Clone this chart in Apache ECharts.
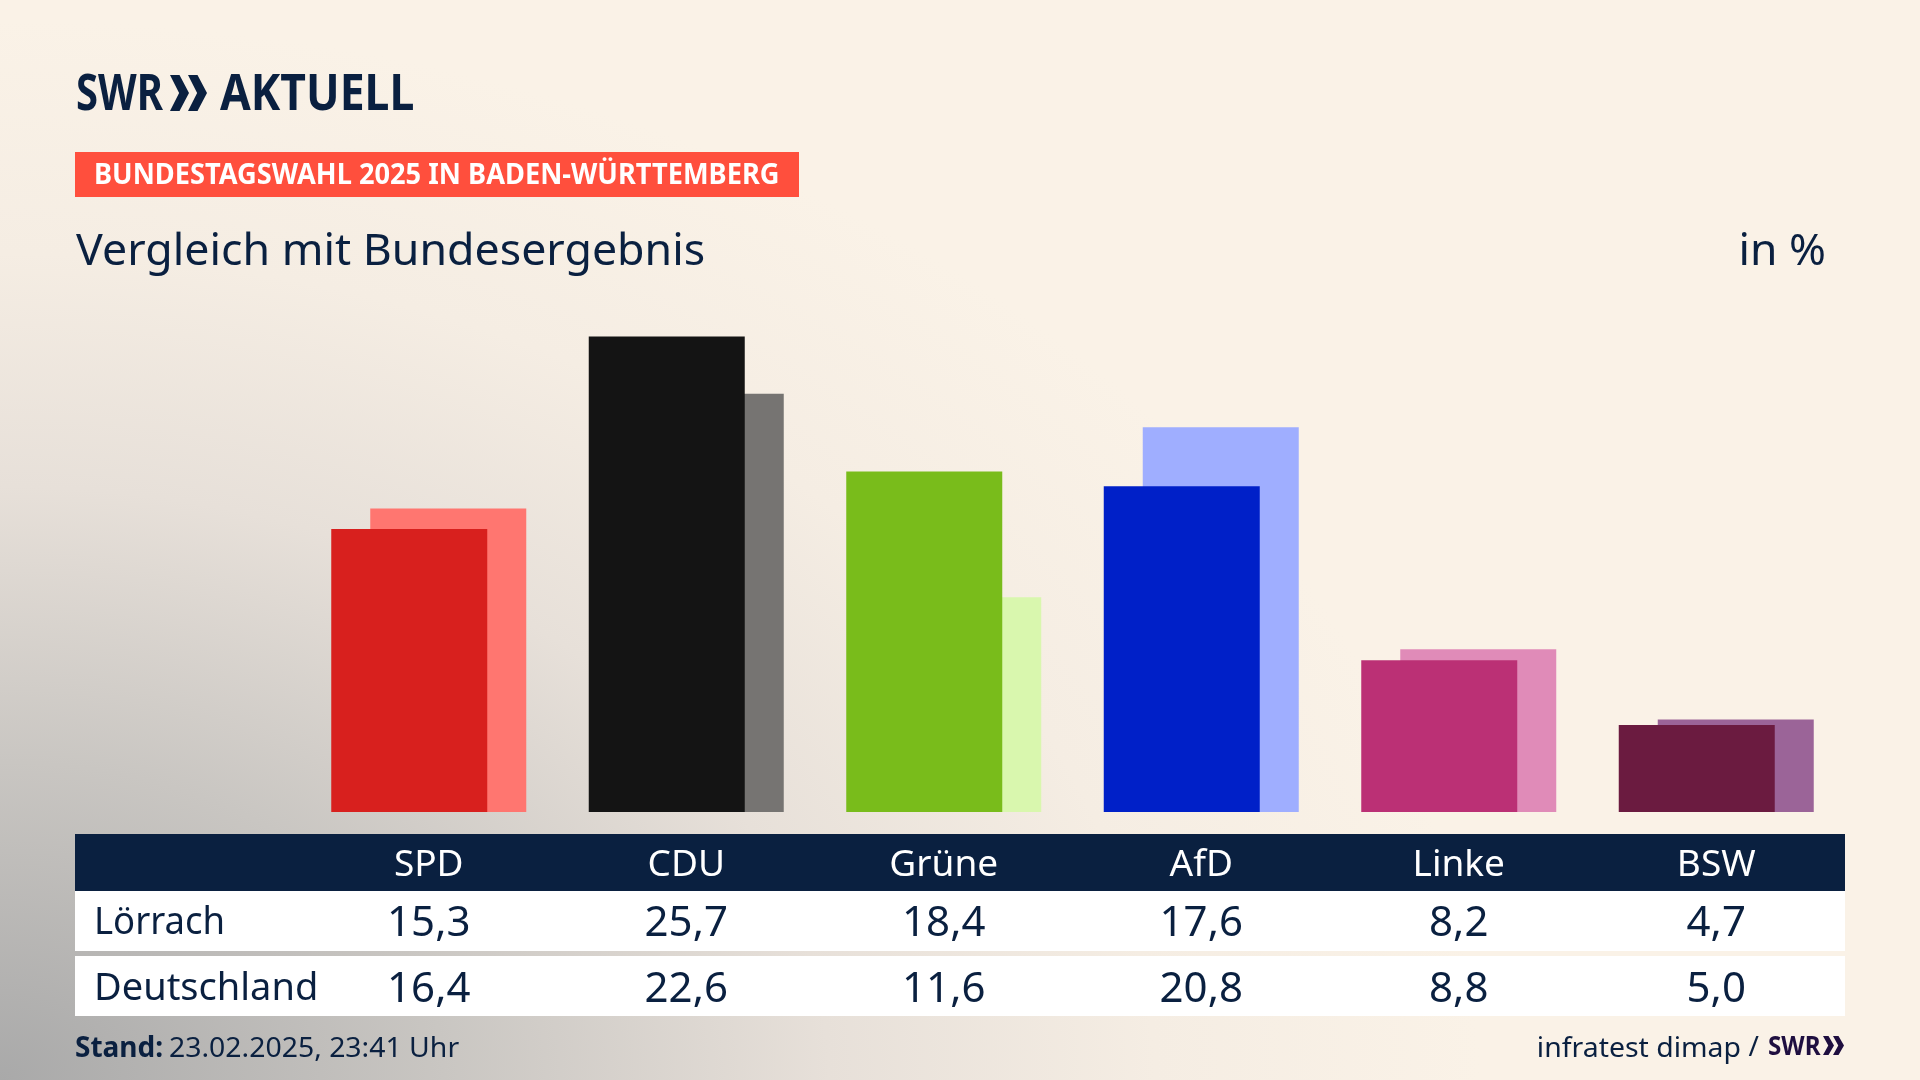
<!DOCTYPE html>
<html><head><meta charset="utf-8">
<style>html,body{margin:0;padding:0;width:1920px;height:1080px;overflow:hidden;background:#faf2e7}
body{background:radial-gradient(ellipse 1480px 1060px at 0% 100%,#a9a9a9 0%,#c9c6c2 30%,#e7e0d9 56%,#f5ede3 78%,#faf2e7 100%)}
#c{width:1920px;height:1080px}</style>
<script src="https://cdn.jsdelivr.net/npm/echarts@6/dist/echarts.min.js"></script>
</head><body><div id="c"></div>
<script>
const categories=['SPD','CDU','Grüne','AfD','Linke','BSW'];
const loerrach=[15.3,25.7,18.4,17.6,8.2,4.7];
const deutschland=[16.4,22.6,11.6,20.8,8.8,5.0];
const rowNames=['Lörrach','Deutschland'];
const frontColors=['#d8201e','#141414','#79bc1b','#0020c8','#bb3075','#6b1b40'];
const backColors=['#ff7670','#767472','#d9f7ae','#9faeff','#e08bb8','#9b6498'];
const navy='#0a2040';
const F='"Noto Sans"';
const fmt=v=>v.toFixed(1).replace('.',',');
const chart=echarts.init(document.getElementById('c'),null,{renderer:'canvas',width:1920,height:1080});
const rowAxis=(data,margin,color,size)=>({type:'category',gridIndex:0,data,position:'bottom',
  axisLine:{show:false},axisTick:{show:false},splitLine:{show:false},
  axisLabel:{show:true,interval:0,margin,verticalAlign:'middle',color,fontFamily:F,fontSize:size,lineHeight:44}});
const rect=(x,y,w,h,fill)=>({type:'rect',z:-5,silent:true,shape:{x,y,width:w,height:h},style:{fill}});
const txt=(x,y,text,size,weight,fill,align,sx)=>({type:'text',z:5,silent:true,x,y,scaleX:sx||1,
  style:{text,x:0,y:0,fontFamily:F,fontSize:size,fontWeight:weight,fill,align:align||'left',verticalAlign:'middle'}});
const chev=(x,y,w,h,fill)=>({type:'polygon',z:5,silent:true,shape:{points:[[x,y],[x+w*.5,y],[x+w,y+h/2],[x+w*.5,y+h],[x,y+h],[x+w*.48,y+h/2]]},style:{fill}});
chart.setOption({
  animation:false,
  backgroundColor:'transparent',
  grid:{left:300,width:1545,top:256.9,height:555.1,containLabel:false},
  xAxis:[
    rowAxis(categories,53,'#ffffff',37),
    rowAxis(loerrach.map(fmt),112,navy,42),
    rowAxis(deutschland.map(fmt),178,navy,42)
  ],
  yAxis:{type:'value',min:0,max:30,show:false,splitLine:{show:false}},
  series:[
    {name:rowNames[0],type:'bar',xAxisIndex:0,z:3,barWidth:156,barGap:'-75%',data:loerrach,
     itemStyle:{color:p=>frontColors[p.dataIndex]}},
    {name:rowNames[1],type:'bar',xAxisIndex:0,z:2,barWidth:156,barGap:'-75%',data:deutschland,
     itemStyle:{color:p=>backColors[p.dataIndex]}}
  ],
  graphic:[
    rect(75,834,1770,57,navy),
    rect(75,891,1770,60,'#ffffff'),
    rect(75,956,1770,60,'#ffffff'),
    rect(75,152,724,45,'#ff4f3d'),
    txt(76,96,'SWR',50,'bold',navy,'left',.8),
    chev(170,75,19,36,navy),chev(188,75,19,36,navy),
    txt(220,96,'AKTUELL',50,'bold',navy,'left',.89),
    txt(94,176,'BUNDESTAGSWAHL 2025 IN BADEN-WÜRTTEMBERG',28,'bold','#ffffff','left',.972),
    txt(76,252,'Vergleich mit Bundesergebnis',44,'normal',navy,'left',1.016),
    txt(1826,252,'in %',44,'normal',navy,'right',1.01),
    txt(94,923,rowNames[0],38,'normal',navy,'left',.96),
    txt(94,989,rowNames[1],38,'normal',navy),
    txt(75,1049,'Stand:',28,'bold',navy),
    txt(169,1049,'23.02.2025, 23:41 Uhr',28,'normal',navy,'left',1.014),
    txt(1741,1049,'infratest dimap',28,'normal',navy,'right',1.015),
    txt(1759,1048,'/',28,'normal',navy,'right'),
    txt(1768,1048,'SWR',26,'bold','#1f0f40','left',.93),
    chev(1823,1036,11,19,'#1f0f40'),chev(1833,1036,11,19,'#1f0f40')
  ]
});
</script></body></html>
